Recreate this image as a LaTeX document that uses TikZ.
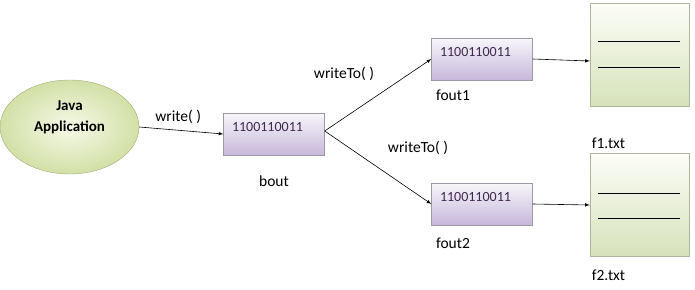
\documentclass[tikz,border=0pt]{standalone}
\usepackage{fontspec}
\setmainfont{Carlito}
\usetikzlibrary{shapes.geometric, arrows, positioning}

\definecolor{bufTop}{HTML}{F8F6FB}
\definecolor{bufBot}{HTML}{C6B8DA}
\definecolor{bufLine}{HTML}{9C98A4}
\definecolor{bufText}{HTML}{3E2A4E}
\definecolor{fileTop}{HTML}{FCFDF7}
\definecolor{fileBot}{HTML}{D6E2BA}
\definecolor{fileLine}{HTML}{AEB69E}
\definecolor{appIn}{HTML}{F6F9E8}
\definecolor{appOut}{HTML}{D2E0A6}
\definecolor{appLine}{HTML}{9EAE7E}

\begin{document}
\begin{tikzpicture}[
    x=1pt, y=-1pt,
    node distance=10pt,
    app/.style={
        ellipse, draw=appLine, inner color=appIn, outer color=appOut,
        minimum width=139, minimum height=94, align=center,
        text depth=21, inner sep=0,
        font=\fontsize{15}{21}\selectfont\bfseries
    },
    buffer/.style={
        rectangle, draw=bufLine, top color=bufTop, bottom color=bufBot,
        minimum width=101, minimum height=42, text width=84,
        inner xsep=8.5, inner ysep=0, align=left,
        text height=10, text depth=15, text=bufText,
        font=\fontsize{14}{16}\selectfont
    },
    file/.style={
        rectangle, draw=fileLine, top color=fileTop, bottom color=fileBot,
        minimum width=99, minimum height=103
    },
    caption/.style={font=\fontsize{15.5}{18}\selectfont},
    arrow/.style={semithick, ->, >=latex}
]
\useasboundingbox (0,0) rectangle (695,289);

%% Application
\node (app) [app] at (69.5,127) {Java \\ Application};

%% Buffer streams
\node (bout)  [buffer] at (274,134) {1100110011};
\node (fout1) [buffer] at (482,59)  {1100110011};
\node (fout2) [buffer] at (482,204) {1100110011};

%% Files
\node (f1) [file] at (639.5,55)  {};
\node (f2) [file] at (639.5,205) {};
\draw (f1.west) ++(8,-14) coordinate (a1) -- ++(82,0);
\draw (f1.west) ++(8,12)  coordinate (b1) -- ++(82,0);
\draw (f2.west) ++(8,-12) coordinate (a2) -- ++(82,0);
\draw (f2.west) ++(8,13)  coordinate (b2) -- ++(82,0);

%% Captions
\node (boutcap)  [caption, below=17pt of bout]  {bout};
\node (fout1cap) [caption, below=6pt of fout1, xshift=-29pt] {fout1};
\node (fout2cap) [caption, below=9pt of fout2, xshift=-29pt] {fout2};
\node (f1cap)    [caption, below=28pt of f1, xshift=-31pt] {f1.txt};
\node (f2cap)    [caption, below=10pt of f2, xshift=-31pt] {f2.txt};

%% Arrows
\draw [arrow] (app.east) -- node [caption, above=3pt, xshift=-3pt] {write( )} (bout.west);
\draw [arrow] ([yshift=3]bout.east) -- (fout1.west);
\draw [arrow] ([yshift=3]bout.east) -- (fout2.west);
\draw [arrow] (fout1.east) -- ([yshift=-6]f1.west);
\draw [arrow] (fout2.east) -- (f2.west);

%% Method labels
\node (wto1) [caption] at (344,74)  {writeTo( )};
\node (wto2) [caption] at (418,148) {writeTo( )};

\end{tikzpicture}
\end{document}
